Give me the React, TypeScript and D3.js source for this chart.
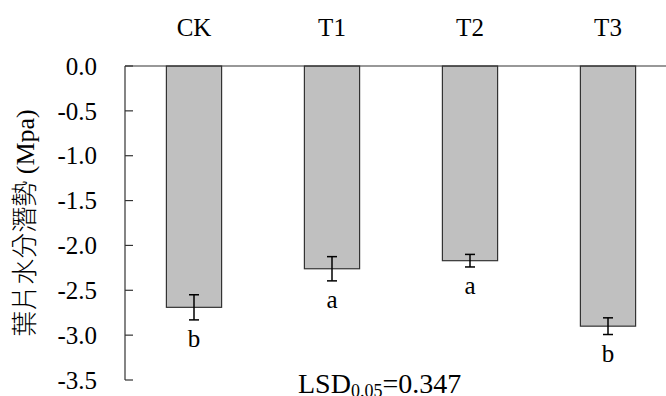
import React from "react";
import * as d3 from "d3";

const categories = ["CK", "T1", "T2", "T3"];
const values = [-2.69, -2.26, -2.17, -2.9];
const errors = [0.14, 0.135, 0.07, 0.093];
const letters = ["b", "a", "a", "b"];
const yTicks = [0, -0.5, -1.0, -1.5, -2.0, -2.5, -3.0, -3.5];

const W = 666;
const H = 396;
const serif = "Liberation Serif";
const cjk = "Noto Sans CJK TC";

const App = () => {
  const x = d3
    .scaleBand()
    .domain(categories)
    .range([125, 677])
    .paddingInner(0.6)
    .paddingOuter(0.3);

  const y = d3.scaleLinear().domain([0, -3.5]).range([66, 380]);

  const data = categories.map((c, i) => ({
    name: c,
    value: values[i],
    err: errors[i],
    letter: letters[i],
  }));

  const axisColor = "#333";
  const txt = { fontFamily: serif };

  return (
    <svg
      width={W}
      height={H}
      style={{ position: "absolute", left: 0, top: 0 }}
    >
      <rect width={W} height={H} fill="#fff" />

      {/* bars */}
      {data.map((d) => (
        <rect
          key={d.name}
          x={x(d.name)}
          y={y(0)}
          width={x.bandwidth()}
          height={y(d.value) - y(0)}
          fill="#c0c0c0"
          stroke="#333"
          strokeWidth={1.2}
        />
      ))}

      {/* axes */}
      <line x1={125} x2={W} y1={y(0)} y2={y(0)} stroke={axisColor} strokeWidth={1.2} />
      <line x1={125} x2={125} y1={y(0)} y2={y(-3.5)} stroke={axisColor} strokeWidth={1.2} />
      {yTicks.map((t) => (
        <g key={t}>
          <line x1={125} x2={133} y1={y(t)} y2={y(t)} stroke={axisColor} strokeWidth={1.2} />
          <text
            x={97}
            y={y(t)}
            dy="0.35em"
            textAnchor="end"
            fontSize={25}
            fill="#000"
            style={txt}
          >
            {d3.format(".1f")(t).replace("−", "-")}
          </text>
        </g>
      ))}

      {/* category labels on top */}
      {data.map((d) => (
        <text
          key={d.name}
          x={x(d.name) + x.bandwidth() / 2}
          y={36}
          textAnchor="middle"
          fontSize={25}
          fill="#000"
          style={txt}
        >
          {d.name}
        </text>
      ))}

      {/* error bars */}
      {data.map((d) => {
        const cx = x(d.name) + x.bandwidth() / 2;
        return (
          <g key={d.name} stroke="#000" strokeWidth={1.5}>
            <line x1={cx} x2={cx} y1={y(d.value + d.err)} y2={y(d.value - d.err)} />
            <line x1={cx - 5} x2={cx + 5} y1={y(d.value + d.err)} y2={y(d.value + d.err)} />
            <line x1={cx - 5} x2={cx + 5} y1={y(d.value - d.err)} y2={y(d.value - d.err)} />
          </g>
        );
      })}

      {/* significance letters */}
      {data.map((d) => (
        <text
          key={d.name}
          x={x(d.name) + x.bandwidth() / 2}
          y={y(d.value - d.err) + 27}
          textAnchor="middle"
          fontSize={25}
          fill="#000"
          style={txt}
        >
          {d.letter}
        </text>
      ))}

      {/* y-axis title */}
      <text
        transform={`translate(34,${(y(0) + y(-3.5)) / 2}) rotate(-90)`}
        textAnchor="middle"
        fontSize={26}
        fill="#000"
      >
        <tspan style={{ fontFamily: cjk, fontWeight: 300 }}>葉片水分潛勢</tspan>
        <tspan style={txt}> (Mpa)</tspan>
      </text>

      {/* LSD */}
      <text x={298} y={393} fontSize={28} fill="#000" style={txt}>
        LSD
        <tspan fontSize={18} dy={4}>0.05</tspan>
        <tspan dy={-4}>=0.347</tspan>
      </text>
    </svg>
  );
};

export default App;
